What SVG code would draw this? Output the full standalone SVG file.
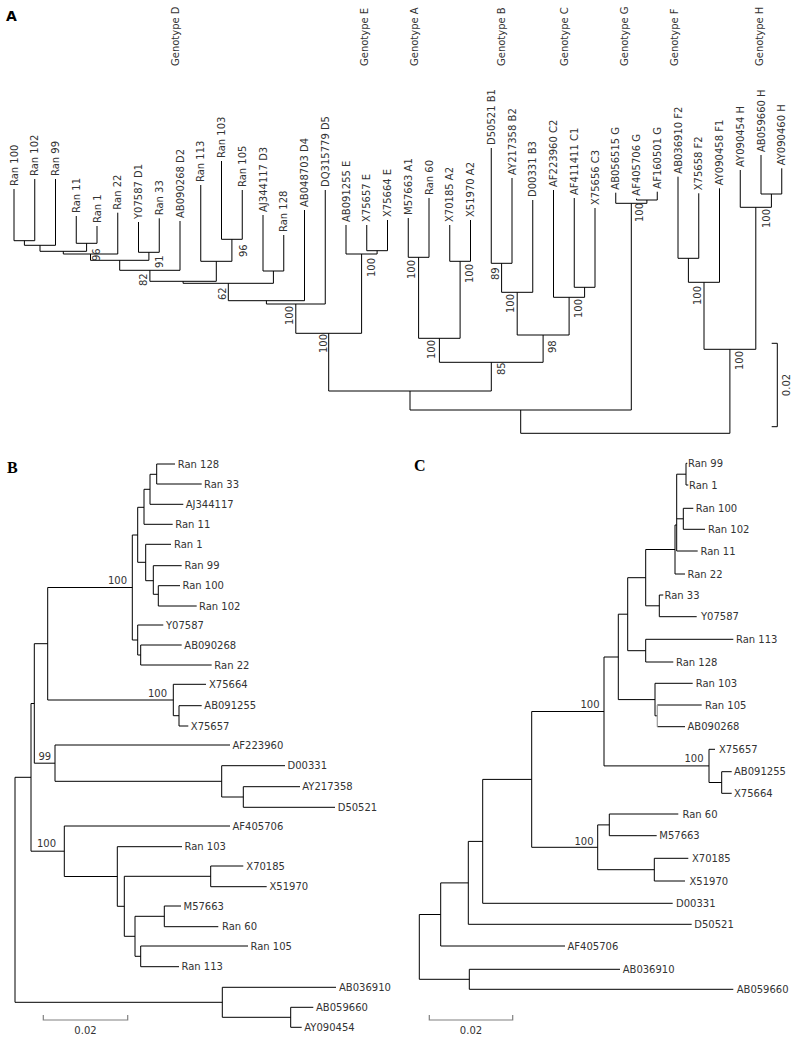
<svg xmlns="http://www.w3.org/2000/svg" width="798" height="1041" viewBox="0 0 798 1041">
<style>
text{font-family:"DejaVu Sans","Liberation Sans",sans-serif;font-size:10px;fill:#333}
.br{fill:none;stroke:#000;stroke-width:1}
.sb{fill:none;stroke:#808080;stroke-width:1.2}
.sbA{fill:none;stroke:#000;stroke-width:1}
.pl{font-family:"Liberation Serif",serif;font-size:16px;font-weight:bold;fill:#000}
.plA{font-family:"DejaVu Sans",sans-serif;font-size:14px;font-weight:bold;fill:#000}
.mid{text-anchor:middle}
.end{text-anchor:end}
</style>
<text class="plA" x="6" y="21">A</text>
<text class="pl" x="7" y="473">B</text>
<text class="pl" x="414" y="471">C</text>

<g id="connectors">
<!-- Panel A leaves -->
<path class="br" d="M14 189V240.7M34.75 179V240.7M55.5 179V245.3M76.25 216V243.3M97 226V243.3M117.75 212.7V254M138.5 222V252.3M159.25 218.3V252.3M180 221V270.3M200.75 185V261.3M221.5 161V239.3M242.25 190V239.3M263 215V271M283.75 235V271M304.5 210V300.7M325.25 190V304M346 225V254M366.75 225V250.7M387.5 220V250.7M408.25 218V257.3M429 198V257.3M449.75 225V261.3M470.5 220V261.3M491.25 148V263.3M512 178V263.3M532.75 200V292.3M553.5 190V297.3M574.25 198V287.3M595 208V287.3M615.75 192.7V203.3M636.5 198.7V200M657.25 191.7V200M678 176.7V258.3M698.75 193.3V258.3M719.5 188.3V282.3M740.25 170V207.3M761 155V194M781.75 168.3V194"/>
<!-- Panel A internal -->
<path class="br" d="M14 240.7H34.75M24.4 240.7V245.3M24.4 245.3H55.5M40 245.3V251.3M76.25 243.3H97M86.6 243.3V251.3M40 251.3H86.6M63.3 251.3V254M63.3 254H117.75M90.5 254V260.3M138.5 252.3H159.25M148.9 252.3V260.3M90.5 260.3H148.9M119.7 260.3V270.3M119.7 270.3H180M149.9 270.3V281.3M221.5 239.3H242.25M231.9 239.3V261.3M200.75 261.3H231.9M216.3 261.3V281.3M149.9 281.3H216.3M183.1 281.3V283.3M263 271H283.75M273.4 271V283.3M183.1 283.3H273.4M228.3 283.3V300.7M228.3 300.7H304.5M266.4 300.7V304M266.4 304H325.25M295.8 304V333.3M366.75 250.7H387.5M377.1 250.7V254M346 254H377.1M361.6 254V333.3M295.8 333.3H361.6M328.7 333.3V391M408.25 257.3H429M418.6 257.3V338.3M449.75 261.3H470.5M460.1 261.3V338.3M418.6 338.3H460.1M439.4 338.3V362.3M491.25 263.3H512M501.6 263.3V292.3M501.6 292.3H532.75M517.2 292.3V335M574.25 287.3H595M584.6 287.3V297.3M553.5 297.3H584.6M569.1 297.3V335M517.2 335H569.1M543.1 335V362.3M439.4 362.3H543.1M491.3 362.3V391M328.7 391H491.3M410 391V410M636.5 200H657.25M646.9 200V203.3M615.75 203.3H646.9M631.3 203.3V410M410 410H631.3M520.7 410V433.3M678 258.3H698.75M688.4 258.3V282.3M688.4 282.3H719.5M704 282.3V349.3M761 194H781.75M771.4 194V207.3M740.25 207.3H771.4M755.8 207.3V349.3M704 349.3H755.8M729.9 349.3V433.3M520.7 433.3H729.9"/>
<path class="sbA" d="M771.7 343.3H777.3V426.7H771.7"/>

<!-- Panel B -->
<path class="br" d="M156.7 464H175M156.7 484H201.7M150 504.3H183.3M144 524.3H172.7M145.7 544.3H171M153.3 565.7H181.7M158.3 585.7H180M158.3 606H196.7M137.7 625H163.3M140.7 645H181.7M140.7 665H211.7M173.3 684.3H206M179 705.7H201.7M179 726H188.3M55 745H230M221.7 765.7H285M243.3 786.7H300M243.3 807.3H335M64.3 826H230M117.3 846.7H182M210.7 866H243.3M210.7 886.7H266.7M164.3 906H181M164.3 926.7H218.3M140.7 946H248M140.7 966.7H179M222.3 987.3H336M290.7 1007.3H313.3M290.7 1027.3H301.7"/>
<path class="br" d="M156.7 464V484M150 474.3H156.7M150 474.3V504.3M144 489.3H150M144 489.3V524.3M137.7 507.3H144M158.3 585.7V606M153.3 594.3H158.3M153.3 565.7V594.3M145.7 580.7H153.3M145.7 544.3V580.7M137.7 562.3H145.7M137.7 507.3V562.3M132.3 535H137.7M140.7 645V665M137.7 655H140.7M137.7 625V655M132.3 640H137.7M132.3 535V640M47.7 587.5H132.3M179 705.7V726M173.3 715.7H179M173.3 684.3V715.7M47.7 700H173.3M47.7 587.5V700M34.3 643.7H47.7M243.3 786.7V807.3M221.7 797H243.3M221.7 765.7V797M55 781.3H221.7M55 745V781.3M34.3 763.2H55M34.3 643.7V763.2M31 703.5H34.3M210.7 866V886.7M124.3 876.3H210.7M164.3 906V926.7M135 916.3H164.3M140.7 946V966.7M135 956.3H140.7M135 916.3V956.3M124.3 936.3H135M124.3 876.3V936.3M117.3 906.3H124.3M117.3 846.7V906.3M64.3 876.5H117.3M64.3 826V876.5M31 851.2H64.3M31 703.5V851.2M15 777.3H31M290.7 1007.3V1027.3M222.3 1017.3H290.7M222.3 987.3V1017.3M15 1002.3H222.3M15 777.3V1002.3"/>
<path class="sb" d="M43.3 1015V1020H127.7V1015"/>

<!-- Panel C -->
<path class="br" d="M686 463.3H687.3M686 485H688.3M683.3 508.3H693.3M683.3 529.3H705M676.7 551H697.7M675 574H685M659.3 595H663.3M659.3 616.7H696.7M645.7 639.3H733.3M645.7 662H673.3M655 683.3H692.7M657.3 705H701.7M657.3 726.7H685M709 749.3H715M721.7 771.7H731.7M721.7 793.3H731.7M609.3 814H678.3M609.3 835.7H656.7M654.3 858.3H688.3M654.3 881H685M482.7 903.3H672.7M468.3 924.3H691.7M440.7 946H565M469.3 969.3H620M469.3 989.3H733.3"/>
<path class="br" d="M686 463.3V485M676.7 474.2H686M683.3 508.3V529.3M676.7 518.8H683.3M676.7 474.2V551M675 525H676.7M675 525V574M645.7 549.5H675M659.3 595V616.7M645.7 605.8H659.3M645.7 549.5V605.8M627.7 577.7H645.7M645.7 639.3V662M627.7 650.7H645.7M627.7 577.7V650.7M618.3 614.2H627.7M655 699.6H618.3M655 683.3V715.8M655 715.8H657.3M618.3 614.2V699.6M604 657H618.3M721.7 771.7V793.3M709 782.5H721.7M709 749.3V782.5M604 765.9H709M604 657V765.9M531.7 711.5H604M609.3 814V835.7M597.7 824.9H609.3M654.3 858.3V881M597.7 869.7H654.3M597.7 824.9V869.7M531.7 847.3H597.7M531.7 711.5V847.3M482.7 779.4H531.7M482.7 779.4V903.3M468.3 841.4H482.7M468.3 841.4V924.3M440.7 882.9H468.3M440.7 882.9V946M419.3 914.5H440.7M469.3 969.3V989.3M419.3 979.3H469.3M419.3 914.5V979.3"/>
<path d="M657.3 705V726.7" fill="none" stroke="#999" stroke-width="1.2"/>
<path class="sb" d="M429.3 1015V1020H512.7V1015"/>
</g>

<g id="genotypes">
<text transform="translate(179,66) rotate(-90)">Genotype D</text>
<text transform="translate(367.5,66) rotate(-90)">Genotype E</text>
<text transform="translate(417.5,66) rotate(-90)">Genotype A</text>
<text transform="translate(505,66) rotate(-90)">Genotype B</text>
<text transform="translate(567.5,66) rotate(-90)">Genotype C</text>
<text transform="translate(627.5,66) rotate(-90)">Genotype G</text>
<text transform="translate(677.5,66) rotate(-90)">Genotype F</text>
<text transform="translate(762.5,66) rotate(-90)">Genotype H</text>
</g>

<g id="A-leaves">
<g id="a-ran100"><text transform="translate(17.5,186) rotate(-90)">Ran 100</text></g>
<g id="a-ran102"><text transform="translate(38.25,176) rotate(-90)">Ran 102</text></g>
<g id="a-ran99"><text transform="translate(59,176) rotate(-90)">Ran 99</text></g>
<g id="a-ran11"><text transform="translate(79.75,213) rotate(-90)">Ran 11</text></g>
<g id="a-ran1"><text transform="translate(100.5,223) rotate(-90)">Ran 1</text></g>
<g id="a-ran22"><text transform="translate(121.25,209.7) rotate(-90)">Ran 22</text></g>
<g id="a-y07587"><text transform="translate(142,219) rotate(-90)">Y07587 D1</text></g>
<g id="a-ran33"><text transform="translate(162.75,215.3) rotate(-90)">Ran 33</text></g>
<g id="a-ab090268"><text transform="translate(183.5,218) rotate(-90)">AB090268 D2</text></g>
<g id="a-ran113"><text transform="translate(204.25,182) rotate(-90)">Ran 113</text></g>
<g id="a-ran103"><text transform="translate(225,158) rotate(-90)">Ran 103</text></g>
<g id="a-ran105"><text transform="translate(245.75,187) rotate(-90)">Ran 105</text></g>
<g id="a-aj344117"><text transform="translate(266.5,212) rotate(-90)">AJ344117 D3</text></g>
<g id="a-ran128"><text transform="translate(287.25,232) rotate(-90)">Ran 128</text></g>
<g id="a-ab048703"><text transform="translate(308,207) rotate(-90)">AB048703 D4</text></g>
<g id="a-dq315779"><text transform="translate(328.75,187) rotate(-90)">DQ315779 D5</text></g>
<g id="a-ab091255"><text transform="translate(349.5,222) rotate(-90)">AB091255 E</text></g>
<g id="a-x75657"><text transform="translate(370.25,222) rotate(-90)">X75657 E</text></g>
<g id="a-x75664"><text transform="translate(391,217) rotate(-90)">X75664 E</text></g>
<g id="a-m57663"><text transform="translate(411.75,215) rotate(-90)">M57663 A1</text></g>
<g id="a-ran60"><text transform="translate(432.5,195) rotate(-90)">Ran 60</text></g>
<g id="a-x70185"><text transform="translate(453.25,222) rotate(-90)">X70185 A2</text></g>
<g id="a-x51970"><text transform="translate(474,217) rotate(-90)">X51970 A2</text></g>
<g id="a-d50521"><text transform="translate(494.75,145) rotate(-90)">D50521 B1</text></g>
<g id="a-ay217358"><text transform="translate(515.5,175) rotate(-90)">AY217358 B2</text></g>
<g id="a-d00331"><text transform="translate(536.25,197) rotate(-90)">D00331 B3</text></g>
<g id="a-af223960"><text transform="translate(557,187) rotate(-90)">AF223960 C2</text></g>
<g id="a-af411411"><text transform="translate(577.75,195) rotate(-90)">AF411411 C1</text></g>
<g id="a-x75656"><text transform="translate(598.5,205) rotate(-90)">X75656 C3</text></g>
<g id="a-ab056515"><text transform="translate(619.25,189.7) rotate(-90)">AB056515 G</text></g>
<g id="a-af405706"><text transform="translate(640,195.7) rotate(-90)">AF405706 G</text></g>
<g id="a-af160501"><text transform="translate(660.75,188.7) rotate(-90)">AF160501 G</text></g>
<g id="a-ab036910"><text transform="translate(681.5,173.7) rotate(-90)">AB036910 F2</text></g>
<g id="a-x75658"><text transform="translate(702.25,190.3) rotate(-90)">X75658 F2</text></g>
<g id="a-ay090458"><text transform="translate(723,185.3) rotate(-90)">AY090458 F1</text></g>
<g id="a-ay090454"><text transform="translate(743.75,167) rotate(-90)">AY090454 H</text></g>
<g id="a-ab059660"><text transform="translate(764.5,152) rotate(-90)">AB059660 H</text></g>
<g id="a-ay090460"><text transform="translate(785.25,165.3) rotate(-90)">AY090460 H</text></g>
</g>

<g id="A-bootstrap">
<text transform="translate(100,261) rotate(-90)">96</text>
<text transform="translate(162.5,268) rotate(-90)">91</text>
<text transform="translate(146.5,286) rotate(-90)">82</text>
<text transform="translate(246.5,257) rotate(-90)">96</text>
<text transform="translate(225.5,300) rotate(-90)">62</text>
<text transform="translate(292.5,325) rotate(-90)">100</text>
<text transform="translate(374.5,277) rotate(-90)">100</text>
<text transform="translate(326.5,353) rotate(-90)">100</text>
<text transform="translate(414.5,279) rotate(-90)">100</text>
<text transform="translate(472.5,283) rotate(-90)">100</text>
<text transform="translate(435,359) rotate(-90)">100</text>
<text transform="translate(499,280) rotate(-90)">89</text>
<text transform="translate(513.5,313) rotate(-90)">100</text>
<text transform="translate(581.5,318) rotate(-90)">100</text>
<text transform="translate(556,353) rotate(-90)">98</text>
<text transform="translate(504.5,375) rotate(-90)">85</text>
<text transform="translate(643,222) rotate(-90)">100</text>
<text transform="translate(701,305) rotate(-90)">100</text>
<text transform="translate(769.5,228) rotate(-90)">100</text>
<text transform="translate(742.5,370) rotate(-90)">100</text>
<text class="mid" transform="translate(789.5,385) rotate(-90)">0.02</text>
</g>

<g id="B-leaves">
<g id="b-ran128"><text x="177.7" y="467.6">Ran 128</text></g>
<g id="b-ran33"><text x="204" y="487.6">Ran 33</text></g>
<g id="b-aj344117"><text x="185.7" y="507.9">AJ344117</text></g>
<g id="b-ran11"><text x="175.2" y="527.9">Ran 11</text></g>
<g id="b-ran1"><text x="174" y="547.9">Ran 1</text></g>
<g id="b-ran99"><text x="184.5" y="569.3">Ran 99</text></g>
<g id="b-ran100"><text x="182.5" y="589.3">Ran 100</text></g>
<g id="b-ran102"><text x="199" y="609.6">Ran 102</text></g>
<g id="b-y07587"><text x="166" y="628.6">Y07587</text></g>
<g id="b-ab090268"><text x="184.3" y="648.6">AB090268</text></g>
<g id="b-ran22"><text x="214.3" y="668.6">Ran 22</text></g>
<g id="b-x75664"><text x="209" y="687.9">X75664</text></g>
<g id="b-ab091255"><text x="204.3" y="709.3">AB091255</text></g>
<g id="b-x75657"><text x="190.8" y="729.6">X75657</text></g>
<g id="b-af223960"><text x="232.5" y="748.6">AF223960</text></g>
<g id="b-d00331"><text x="287.5" y="769.3">D00331</text></g>
<g id="b-ay217358"><text x="302.3" y="790.3">AY217358</text></g>
<g id="b-d50521"><text x="337.7" y="810.9">D50521</text></g>
<g id="b-af405706"><text x="232.5" y="829.6">AF405706</text></g>
<g id="b-ran103"><text x="184.5" y="850.3">Ran 103</text></g>
<g id="b-x70185"><text x="246.3" y="869.6">X70185</text></g>
<g id="b-x51970"><text x="269.5" y="890.3">X51970</text></g>
<g id="b-m57663"><text x="183.5" y="909.6">M57663</text></g>
<g id="b-ran60"><text x="222" y="930.3">Ran 60</text></g>
<g id="b-ran105"><text x="250.5" y="949.6">Ran 105</text></g>
<g id="b-ran113"><text x="181.5" y="970.3">Ran 113</text></g>
<g id="b-ab036910"><text x="339" y="990.9">AB036910</text></g>
<g id="b-ab059660"><text x="316" y="1010.9">AB059660</text></g>
<g id="b-ay090454"><text x="304.3" y="1030.9">AY090454</text></g>
</g>
<g id="B-bootstrap">
<text class="end" x="127" y="584">100</text>
<text class="end" x="167" y="697">100</text>
<text x="38.5" y="760">99</text>
<text x="37" y="847">100</text>
<text class="mid" x="85.5" y="1034">0.02</text>
</g>

<g id="C-leaves">
<g id="c-ran99"><text x="688" y="466.9">Ran 99</text></g>
<g id="c-ran1"><text x="689" y="488.6">Ran 1</text></g>
<g id="c-ran100"><text x="695.7" y="511.9">Ran 100</text></g>
<g id="c-ran102"><text x="708" y="532.9">Ran 102</text></g>
<g id="c-ran11"><text x="700.5" y="554.6">Ran 11</text></g>
<g id="c-ran22"><text x="687.5" y="577.6">Ran 22</text></g>
<g id="c-ran33"><text x="664.5" y="598.6">Ran 33</text></g>
<g id="c-y07587"><text x="701" y="620.3">Y07587</text></g>
<g id="c-ran113"><text x="736" y="642.9">Ran 113</text></g>
<g id="c-ran128"><text x="676" y="665.6">Ran 128</text></g>
<g id="c-ran103"><text x="695.7" y="686.9">Ran 103</text></g>
<g id="c-ran105"><text x="705" y="708.6">Ran 105</text></g>
<g id="c-ab090268"><text x="687.5" y="730.3">AB090268</text></g>
<g id="c-x75657"><text x="719" y="752.9">X75657</text></g>
<g id="c-ab091255"><text x="734" y="775.3">AB091255</text></g>
<g id="c-x75664"><text x="734" y="796.9">X75664</text></g>
<g id="c-ran60"><text x="682.5" y="817.6">Ran 60</text></g>
<g id="c-m57663"><text x="659.3" y="839.3">M57663</text></g>
<g id="c-x70185"><text x="692" y="861.9">X70185</text></g>
<g id="c-x51970"><text x="689.5" y="884.6">X51970</text></g>
<g id="c-d00331"><text x="676" y="906.9">D00331</text></g>
<g id="c-d50521"><text x="694.3" y="927.9">D50521</text></g>
<g id="c-af405706"><text x="567.5" y="949.6">AF405706</text></g>
<g id="c-ab036910"><text x="622.7" y="972.9">AB036910</text></g>
<g id="c-ab059660"><text x="736.7" y="992.9">AB059660</text></g>
</g>
<g id="C-bootstrap">
<text class="end" x="599.5" y="708">100</text>
<text class="end" x="703.5" y="762">100</text>
<text class="end" x="593.5" y="845">100</text>
<text class="mid" x="471" y="1034">0.02</text>
</g>
</svg>
